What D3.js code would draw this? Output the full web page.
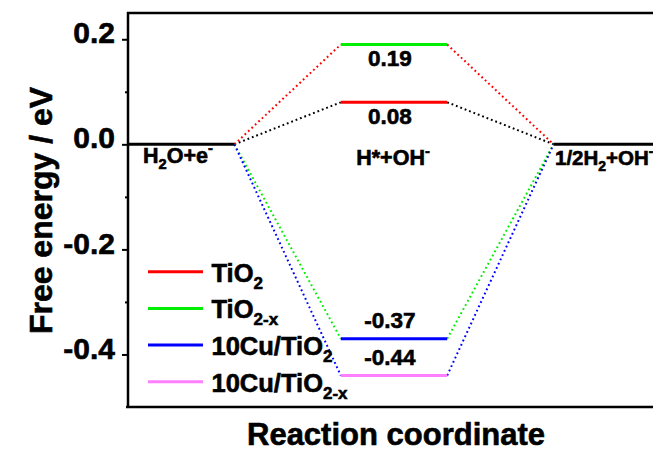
<!DOCTYPE html>
<html>
<head>
<meta charset="utf-8">
<script src="https://cdn.jsdelivr.net/npm/d3@7"></script>
<style>
  html, body { margin: 0; padding: 0; background: #fff; }
  svg { display: block; }
  text { font-family: "Liberation Sans", Arial, sans-serif; font-weight: bold; fill: #000; stroke: #000; stroke-width: 0.6px; }
</style>
</head>
<body>
<svg id="chart" width="653" height="452"></svg>
<script>
// Free energy diagram of the hydrogen evolution steps
const seriesNames = [["TiO", "2"], ["TiO", "2-x"], ["10Cu/TiO", "2"], ["10Cu/TiO", "2-x"]];
const intermediateEnergy = [0.08, 0.19, -0.37, -0.44];   // H*+OH- state (eV)
const initialEnergy = 0.0;                                // H2O+e-
const finalEnergy = 0.0;                                  // 1/2H2+OH-
const levelColors = ["#ff0000", "#00ee00", "#0000ff", "#ff80ff"];
const linkColors = ["#000000", "#ff0000", "#00ee00", "#0000ff"];
const valueLabels = ["0.08", "0.19", "-0.37", "-0.44"];
const majorTicks = [-0.4, -0.2, 0.0, 0.2];
const majorTickLabels = ["-0.4", "-0.2", "0.0", "0.2"];
const minorTicks = [-0.3, -0.1, 0.1];
// stage spans along the reaction coordinate
const stageSpans = [[0, 1], [2, 3], [4, 5]];

const svg = d3.select("#chart");
const x = d3.scaleLinear().domain([0, 5]).range([128, 660]);
const y = d3.scaleLinear().domain([-0.5, 0.25]).range([407, 13]);

const font = "'Liberation Sans', Arial, sans-serif";

// connectors (dotted) from the initial level to the intermediate level and on to the final level
const g = svg.append("g");
intermediateEnergy.forEach((e, i) => {
  const pts = [
    [[stageSpans[0][1], initialEnergy], [stageSpans[1][0], e]],
    [[stageSpans[1][1], e], [stageSpans[2][0], finalEnergy]]
  ];
  pts.forEach(p => {
    g.append("line")
      .attr("x1", x(p[0][0])).attr("y1", y(p[0][1]))
      .attr("x2", x(p[1][0])).attr("y2", y(p[1][1]))
      .attr("stroke", linkColors[i])
      .attr("stroke-width", 2)
      .attr("stroke-dasharray", "1.8 2.9");
  });
});

// intermediate levels
intermediateEnergy.forEach((e, i) => {
  g.append("line")
    .attr("x1", x(stageSpans[1][0])).attr("x2", x(stageSpans[1][1]))
    .attr("y1", y(e)).attr("y2", y(e))
    .attr("stroke", levelColors[i]).attr("stroke-width", 3);
});

// initial and final levels
[[stageSpans[0], initialEnergy], [stageSpans[2], finalEnergy]].forEach(([s, e]) => {
  g.append("line")
    .attr("x1", x(s[0])).attr("x2", x(s[1]))
    .attr("y1", y(e)).attr("y2", y(e))
    .attr("stroke", "#000").attr("stroke-width", 3);
});

// value labels beside each intermediate level
const midX = (x(stageSpans[1][0]) + x(stageSpans[1][1])) / 2 - 4;
intermediateEnergy.forEach((e, i) => {
  svg.append("text")
    .attr("x", midX)
    .attr("y", e >= 0 ? y(e) + 21.5 : y(e) - 10.5)
    .attr("text-anchor", "middle")
    .attr("font-size", 22.5)
    .text(valueLabels[i]);
});

// state labels
function richText(xp, yp, parts, size, anchor) {
  const t = svg.append("text").attr("x", xp).attr("y", yp)
    .attr("font-size", size).attr("text-anchor", anchor || "start");
  parts.forEach(([s, kind]) => {
    const sp = t.append("tspan").text(s);
    if (kind === "sub") sp.attr("font-size", size * 0.68).attr("dy", size * 0.3);
    else if (kind === "sup") sp.attr("font-size", size * 0.68).attr("dy", -size * 0.42);
    else if (kind === "back-sub") sp.attr("dy", -size * 0.3);
    else if (kind === "back-sup") sp.attr("dy", size * 0.42);
  });
  return t;
}
richText(143, 162.5, [["H"], ["2", "sub"], ["O+e", "back-sub"], ["-", "sup"]], 21.5);
richText(393, 165, [["H*+OH"], ["-", "sup"]], 21.5, "middle");
richText(555, 165, [["1/2H"], ["2", "sub"], ["+OH", "back-sub"], ["-", "sup"]], 20.5);

// frame: top and bottom borders
svg.append("line").attr("x1", x(0) - 1).attr("x2", 653).attr("y1", y(0.25)).attr("y2", y(0.25))
  .attr("stroke", "#000").attr("stroke-width", 2.5);
svg.append("line").attr("x1", x(0) - 2).attr("x2", 653).attr("y1", y(-0.5)).attr("y2", y(-0.5))
  .attr("stroke", "#000").attr("stroke-width", 2.5);

// left axis
const axis = d3.axisLeft(y).tickValues(majorTicks).tickSize(6).tickPadding(7)
  .tickFormat((d, i) => majorTickLabels[i]);
const ax = svg.append("g").attr("transform", `translate(${x(0)},0)`).call(axis);
ax.select(".domain").attr("stroke", "#000").attr("stroke-width", 2.5)
  .attr("d", `M0,${y(0.25) - 1}V${y(-0.5) + 1}`);
ax.selectAll(".tick line").attr("stroke", "#000").attr("stroke-width", 2);
ax.selectAll(".tick text")
  .attr("font-family", font).attr("font-weight", "bold").attr("font-size", 30)
  .attr("fill", "#000").attr("stroke", "#000").attr("stroke-width", 0.8).attr("dy", "0.12em");
const minorAxis = d3.axisLeft(y).tickValues(minorTicks).tickSize(3).tickFormat("");
const mx = svg.append("g").attr("transform", `translate(${x(0)},0)`).call(minorAxis);
mx.select(".domain").remove();
mx.selectAll(".tick line").attr("stroke", "#000").attr("stroke-width", 2);

// axis titles
svg.append("text")
  .attr("transform", `translate(51.5,210.5) rotate(-90)`)
  .attr("text-anchor", "middle").attr("font-size", 32).attr("stroke-width", 0.8)
  .text("Free energy / eV");
svg.append("text")
  .attr("x", 396).attr("y", 445)
  .attr("text-anchor", "middle").attr("font-size", 31).attr("stroke-width", 0.8)
  .text("Reaction coordinate");

// legend
const legend = svg.append("g");
seriesNames.forEach((n, i) => {
  const ly = 271.7 + i * 36.7;
  legend.append("line")
    .attr("x1", 148).attr("x2", 203).attr("y1", ly).attr("y2", ly)
    .attr("stroke", levelColors[i]).attr("stroke-width", 3);
  const t = legend.append("text").attr("x", 211.5).attr("y", ly + 9.8).attr("font-size", 25.5);
  t.append("tspan").text(n[0]);
  t.append("tspan").text(n[1]).attr("font-size", 17).attr("dy", 7);
});
</script>
</body>
</html>
